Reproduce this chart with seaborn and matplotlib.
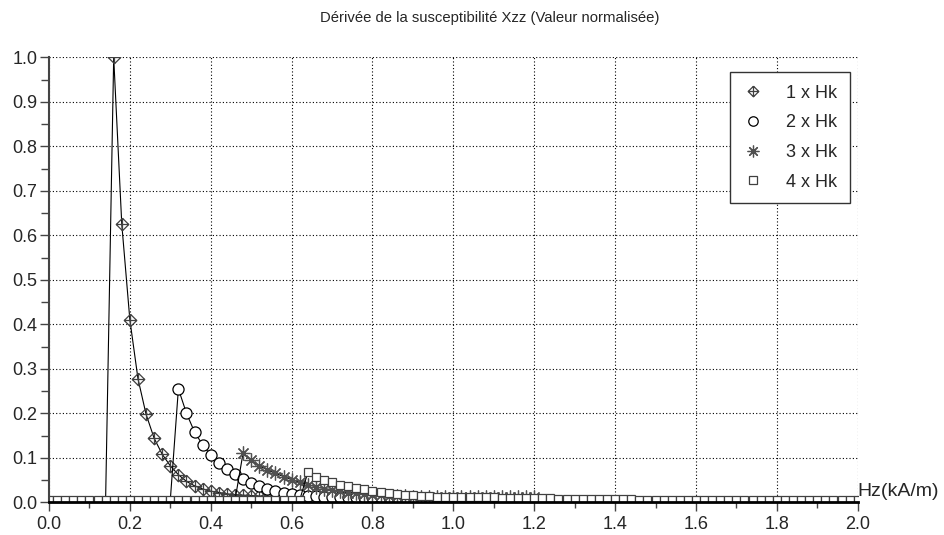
import numpy as np
import matplotlib.pyplot as plt
import seaborn as sns
from matplotlib.path import Path
from matplotlib.lines import Line2D

sns.set_style("ticks")
plt.rcParams['font.family'] = ['Liberation Sans', 'DejaVu Sans']

# field values Hz (kA/m), one sample every 0.02
hz = np.round(np.arange(0, 2.0001, 0.02), 2)

base = 0.005
# 1 x Hk
s1 = [base] * 8 + [1.0, 0.625, 0.41, 0.278, 0.198, 0.144, 0.108, 0.082, 0.062, 0.047,
                   0.037, 0.030, 0.025, 0.022, 0.019, 0.017, 0.016, 0.015, 0.014, 0.014,
                   0.013, 0.013, 0.012, 0.012] + [0.011] * 69
# 2 x Hk
s2 = [base] * 16 + [0.255, 0.200, 0.158, 0.129, 0.106, 0.088, 0.074, 0.063, 0.052, 0.043,
                    0.036, 0.030, 0.025, 0.021, 0.018, 0.016, 0.015, 0.014, 0.013, 0.013,
                    0.012, 0.012, 0.012, 0.012, 0.011, 0.011, 0.011, 0.011] + [0.011] * 57
# 3 x Hk
s3 = [base] * 24 + [0.111, 0.094, 0.082, 0.073, 0.065, 0.058, 0.051, 0.045, 0.040, 0.035,
                    0.031, 0.028, 0.025, 0.022, 0.020, 0.018, 0.017, 0.016, 0.015, 0.014,
                    0.014, 0.013, 0.013, 0.013, 0.012, 0.012, 0.012, 0.012, 0.012,
                    0.011, 0.011, 0.011, 0.011, 0.011, 0.011, 0.011, 0.011] + [0.011] * 40
# 4 x Hk
s4 = [base] * 32 + [0.067, 0.058, 0.051, 0.045, 0.040, 0.036, 0.032, 0.029, 0.026, 0.023,
                    0.021, 0.019, 0.017, 0.016, 0.015, 0.014, 0.013, 0.013, 0.012, 0.012,
                    0.012, 0.011, 0.011, 0.011, 0.010, 0.010, 0.009, 0.009, 0.009, 0.009,
                    0.009] + [0.008] * 10 + [base] * 28

labels = ['1 x Hk', '2 x Hk', '3 x Hk', '4 x Hk']

# diamond with a cross inside
diam_plus = Path([(0, 1), (1, 0), (0, -1), (-1, 0), (0, 1), (0, 1), (0, -1), (-1, 0), (1, 0)],
                 [Path.MOVETO, Path.LINETO, Path.LINETO, Path.LINETO, Path.LINETO,
                  Path.MOVETO, Path.LINETO, Path.MOVETO, Path.LINETO])
star = (8, 2, 0)

styles = [
    dict(marker=diam_plus, markersize=9, markerfacecolor='none', markeredgecolor='#404040',
         markevery=slice(8, 32)),
    dict(marker='o', markersize=8, markerfacecolor='white', markeredgecolor='black',
         markevery=slice(16, 44)),
    dict(marker=star, markersize=10, markerfacecolor='none', markeredgecolor='#505050',
         markevery=slice(24, 61)),
    dict(marker='s', markersize=6.4, markerfacecolor='white', markeredgecolor='#404040',
         markevery=1),
]

fig = plt.figure(figsize=(9.44, 5.35), dpi=100)
ax = fig.add_axes([0.0519, 0.0611, 0.8567, 0.8318])

for s, st in zip([s1, s2, s3, s4], styles):
    sns.lineplot(x=hz, y=s, ax=ax, color='black', linewidth=0.8, markeredgewidth=0.9,
                 legend=False, **st)

ax.set_xlim(0, 2.0)
ax.set_ylim(0, 1.0)
ax.set_xticks(np.arange(0, 2.01, 0.2))
ax.set_xticks(np.arange(0.1, 2.0, 0.2), minor=True)
ax.set_yticks(np.arange(0, 1.01, 0.1))
ax.set_yticks(np.arange(0.05, 1.0, 0.1), minor=True)
ax.set_xticklabels([f'{v:.1f}' for v in np.arange(0, 2.01, 0.2)])
ax.set_yticklabels([f'{v:.1f}' for v in np.arange(0, 1.01, 0.1)])
ax.tick_params(axis='both', which='major', length=6.5, width=1, labelsize=13, color='#444444')
ax.tick_params(axis='x', which='major', pad=3)
ax.tick_params(axis='y', which='major', pad=2)
ax.tick_params(axis='x', which='minor', length=4, width=1, color='#444444')
ax.tick_params(axis='y', which='minor', length=6, width=1, color='#444444')
ax.grid(True, which='major', color='black', linestyle=(0, (1, 2)), linewidth=0.8)
ax.set_xlabel('')
ax.set_ylabel('')

for side in ['top', 'right']:
    ax.spines[side].set_visible(False)
ax.spines['left'].set_linewidth(1.5)
ax.spines['left'].set_color('#444444')
ax.spines['bottom'].set_linewidth(2)
ax.spines['bottom'].set_color('black')

ax.text(1.0, 0.005, 'Hz(kA/m)', transform=ax.transAxes, ha='left', va='bottom', fontsize=14)
fig.text(490 / 944, 1 - 18 / 535, 'Dérivée de la susceptibilité Xzz (Valeur normalisée)',
         ha='center', va='center', fontsize=10.7)

handles = []
for lab, st in zip(labels, styles):
    handles.append(Line2D([], [], linestyle='None', marker=st['marker'],
                          markersize=st['markersize'] * 0.85,
                          markerfacecolor=st['markerfacecolor'],
                          markeredgecolor=st['markeredgecolor'], markeredgewidth=0.9,
                          label=lab))
leg = ax.legend(handles=handles, loc='upper right', bbox_to_anchor=(0.99, 0.967),
                fontsize=13, frameon=True, fancybox=False, framealpha=1,
                edgecolor='#333333', handlelength=1.2, handletextpad=1.2,
                labelspacing=0.7, borderpad=0.7, borderaxespad=0)
leg.get_frame().set_linewidth(1)

plt.savefig('out.png', dpi=100)
